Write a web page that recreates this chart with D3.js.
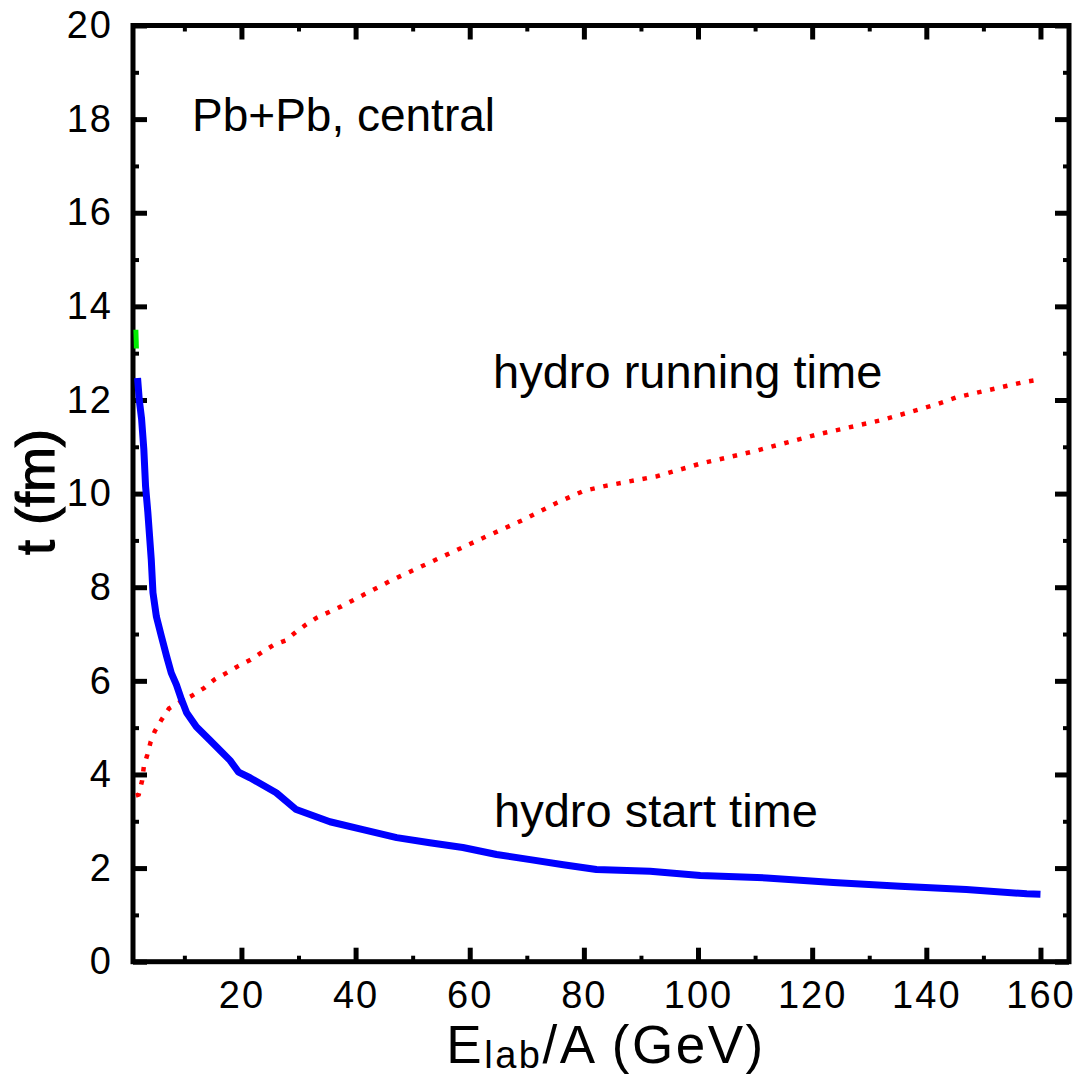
<!DOCTYPE html>
<html>
<head>
<meta charset="utf-8">
<script src="https://cdn.jsdelivr.net/npm/d3@7"></script>
<style>
  body { margin: 0; background: #fff; }
  svg text { font-family: "Liberation Sans", Arial, sans-serif; fill: #000; }
  .tick text { font-size: 38px; letter-spacing: 2px; }
</style>
</head>
<body>
<div id="chart"></div>
<script>
// hydro start time (blue, solid)
const startE = [1.8, 2.1, 2.5, 2.9, 3.2, 3.6, 4.2, 4.5, 5.1, 6.0, 6.9, 7.7, 8.6, 9.5, 10.4, 12.1, 14.4, 16.8, 18.0, 19.5, 21.5, 26.1, 29.6, 35.5, 41.3, 47.2, 53.0, 58.8, 64.7, 70.6, 76.4, 82.2, 91.6, 100.4, 112, 123.7, 135.4, 147, 157.6, 160];
const startT = [12.47, 12.0, 11.6, 10.94, 10.16, 9.6, 8.59, 7.88, 7.37, 6.94, 6.52, 6.17, 5.92, 5.6, 5.32, 5.02, 4.74, 4.45, 4.3, 4.05, 3.93, 3.61, 3.25, 2.99, 2.82, 2.65, 2.54, 2.44, 2.29, 2.18, 2.07, 1.97, 1.93, 1.84, 1.79, 1.69, 1.61, 1.54, 1.45, 1.44];

// hydro running time (red, dotted)
const runE = [1.5, 2.0, 2.6, 2.9, 3.5, 4.1, 4.8, 6.0, 7.3, 9.4, 11.3, 13.5, 15.3, 17.4, 19.5, 21.6, 23.7, 25.7, 27.7, 29.5, 31.3, 33.2, 37.5, 46.0, 54.8, 63.0, 69.4, 75.2, 80.0, 84.0, 92.8, 100.4, 109.7, 120.8, 132.5, 141.6, 145.4, 157.0, 160];
const runT = [3.55, 3.57, 3.87, 4.17, 4.42, 4.70, 4.92, 5.17, 5.41, 5.56, 5.68, 5.85, 6.03, 6.17, 6.32, 6.45, 6.62, 6.77, 6.86, 7.04, 7.2, 7.35, 7.59, 8.13, 8.63, 9.09, 9.44, 9.80, 10.06, 10.17, 10.37, 10.64, 10.9, 11.26, 11.58, 11.9, 12.06, 12.38, 12.44];

// short green piece near the top left
const greenE = [1.5, 1.6];
const greenT = [13.5, 13.1];

const xMajor = [20, 40, 60, 80, 100, 120, 140, 160];
const xMinor = [10, 30, 50, 70, 90, 110, 130, 150];
const yMajor = [0, 2, 4, 6, 8, 10, 12, 14, 16, 18, 20];
const yMinor = [1, 3, 5, 7, 9, 11, 13, 15, 17, 19];

const width = 1076, height = 1079;
const mLeft = 133, mRight = 1069, mTop = 25.5, mBottom = 961.7;

const svg = d3.select("#chart").append("svg").attr("width", width).attr("height", height);

const x = d3.scaleLinear().domain([1, 165]).range([mLeft, mRight]);
const y = d3.scaleLinear().domain([0, 20]).range([mBottom, mTop]);

function styleAxis(g, w) {
  g.select(".domain").remove();
  g.selectAll(".tick line").attr("stroke", "#000").attr("stroke-width", w);
}

// bottom
svg.append("g").attr("transform", `translate(0,${mBottom})`)
  .call(d3.axisBottom(x).tickValues(xMajor).tickSize(-14).tickPadding(19).tickFormat(d3.format("d")))
  .call(g => styleAxis(g, 5));
svg.append("g").attr("transform", `translate(0,${mBottom})`)
  .call(d3.axisBottom(x).tickValues(xMinor).tickSize(-6).tickFormat(""))
  .call(g => styleAxis(g, 4));
// top
svg.append("g").attr("transform", `translate(0,${mTop})`)
  .call(d3.axisTop(x).tickValues(xMajor).tickSize(-14).tickFormat(""))
  .call(g => styleAxis(g, 5));
svg.append("g").attr("transform", `translate(0,${mTop})`)
  .call(d3.axisTop(x).tickValues(xMinor).tickSize(-6).tickFormat(""))
  .call(g => styleAxis(g, 4));
// left
svg.append("g").attr("transform", `translate(${mLeft},0)`)
  .call(d3.axisLeft(y).tickValues(yMajor).tickSize(-14).tickPadding(20).tickFormat(d3.format("d")))
  .call(g => styleAxis(g, 5));
svg.append("g").attr("transform", `translate(${mLeft},0)`)
  .call(d3.axisLeft(y).tickValues(yMinor).tickSize(-6).tickFormat(""))
  .call(g => styleAxis(g, 4));
// right
svg.append("g").attr("transform", `translate(${mRight},0)`)
  .call(d3.axisRight(y).tickValues(yMajor).tickSize(-14).tickFormat(""))
  .call(g => styleAxis(g, 5));
svg.append("g").attr("transform", `translate(${mRight},0)`)
  .call(d3.axisRight(y).tickValues(yMinor).tickSize(-6).tickFormat(""))
  .call(g => styleAxis(g, 4));

svg.selectAll(".tick text").attr("fill", "#000");

svg.append("rect")
  .attr("x", mLeft).attr("y", mTop)
  .attr("width", mRight - mLeft).attr("height", mBottom - mTop)
  .attr("fill", "none").attr("stroke", "#000").attr("stroke-width", 5);

const line = d3.line().x(d => x(d[0])).y(d => y(d[1]));

svg.append("path")
  .datum(d3.zip(runE, runT))
  .attr("d", line)
  .attr("fill", "none").attr("stroke", "#ff0000")
  .attr("stroke-width", 4.5).attr("stroke-dasharray", "4.5,8.8");

svg.append("path")
  .datum(d3.zip(startE, startT))
  .attr("d", line)
  .attr("fill", "none").attr("stroke", "#0000ff")
  .attr("stroke-width", 7).attr("stroke-linejoin", "round");

svg.append("path")
  .datum(d3.zip(greenE, greenT))
  .attr("d", line)
  .attr("fill", "none").attr("stroke", "#00ee00")
  .attr("stroke-width", 5);

// labels
svg.append("text").attr("x", 192).attr("y", 131).attr("font-size", 46).text("Pb+Pb, central");
svg.append("text").attr("x", 493).attr("y", 388).attr("font-size", 47).text("hydro running time");
svg.append("text").attr("x", 494).attr("y", 827).attr("font-size", 47).text("hydro start time");

const xt = svg.append("text").attr("x", 606).attr("y", 1063)
  .attr("text-anchor", "middle").attr("font-size", 53).attr("letter-spacing", 2.5);
xt.append("tspan").text("E");
xt.append("tspan").attr("font-size", 38).attr("dy", 5).text("lab");
xt.append("tspan").attr("dy", -5).text("/A (GeV)");

svg.append("text")
  .attr("transform", "translate(54,492) rotate(-90)")
  .attr("text-anchor", "middle").attr("font-size", 54)
  .attr("stroke", "#000").attr("stroke-width", 1.2)
  .text("t (fm)");
</script>
</body>
</html>
